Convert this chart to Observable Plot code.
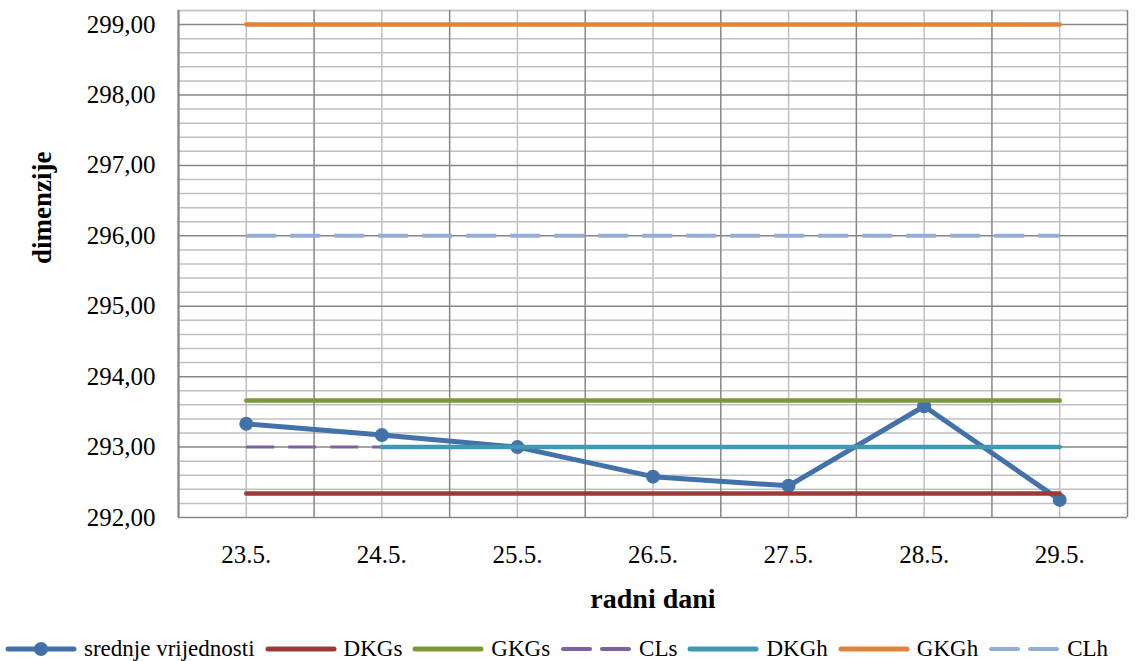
<!DOCTYPE html>
<html><head><meta charset="utf-8">
<script src="https://cdn.jsdelivr.net/npm/d3@7"></script>
<script src="https://cdn.jsdelivr.net/npm/@observablehq/plot@0.6"></script>
<style>body{margin:0;background:#fff;font-family:'Liberation Serif'}</style>
</head><body><div id="chart"></div><div id="legend" style="font-family:'Liberation Serif';display:flex;align-items:center;height:24px;padding-left:5px;font-size:23px;color:#000;white-space:nowrap"></div><script>
const days = ["23.5.","24.5.","25.5.","26.5.","27.5.","28.5.","29.5."];
const srednje = [293.33, 293.17, 293.00, 292.58, 292.45, 293.58, 292.25];
const DKGs = [292.34, 292.34, 292.34, 292.34, 292.34, 292.34, 292.34];
const GKGs = [293.66, 293.66, 293.66, 293.66, 293.66, 293.66, 293.66];
const CLs  = [293.00, 293.00, 293.00, 293.00, 293.00, 293.00, 293.00];
const DKGh = [null, 293.00, 293.00, 293.00, 293.00, 293.00, 293.00];
const GKGh = [299.00, 299.00, 299.00, 299.00, 299.00, 299.00, 299.00];
const CLh  = [296.00, 296.00, 296.00, 296.00, 296.00, 296.00, 296.00];
const yTicks = [292, 293, 294, 295, 296, 297, 298, 299];

const FONT = "'Liberation Serif'";

const series = [
  {name: "srednje vrijednosti", values: srednje, color: "#4372AA", width: 5, dash: null, marker: true},
  {name: "DKGs", values: DKGs, color: "#9B3A39", width: 4.5, dash: null},
  {name: "GKGs", values: GKGs, color: "#7A983B", width: 4.5, dash: null},
  {name: "CLs", values: CLs, color: "#7E5F9F", width: 3, dash: "28,14"},
  {name: "DKGh", values: DKGh, color: "#4298B1", width: 4.5, dash: null},
  {name: "GKGh", values: GKGh, color: "#E2833A", width: 4.5, dash: null},
  {name: "CLh", values: CLh, color: "#93AED6", width: 4, dash: "30,14"}
];

const idx = d3.range(days.length);
const minor = d3.range(1, 37).map(i => 292 + i * 0.2).filter(v => Math.abs(v - Math.round(v)) > 1e-6);
const halfs = d3.range(-0.5, 7, 1);

const marks = [
  Plot.ruleY(minor, {stroke: "#C0C0C0", strokeWidth: 1.5}),
  Plot.ruleY([299.2], {stroke: "#C8C8C8", strokeWidth: 1.5}),
  Plot.ruleX(idx, {stroke: "#C0C0C0", strokeWidth: 1.5}),
  Plot.ruleY(yTicks, {stroke: "#868686", strokeWidth: 1.5}),
  Plot.ruleX(halfs, {stroke: "#868686", strokeWidth: 1.5}),
  Plot.ruleX([-0.5], {stroke: "#868686", strokeWidth: 2})
];

for (const s of series) {
  const data = idx.map(i => ({x: i, y: s.values[i]}));
  marks.push(Plot.line(data, {x: "x", y: "y", stroke: s.color, strokeWidth: s.width,
    strokeDasharray: s.dash || undefined, strokeLinecap: s.dash ? "butt" : "round", defined: d => d.y != null}));
  if (s.marker) marks.push(Plot.dot(data, {x: "x", y: "y", r: 7, fill: s.color, stroke: "none"}));
}

marks.push(
  Plot.axisY({ticks: yTicks, tickFormat: d => d.toFixed(2).replace(".", ","), tickSize: 0, tickPadding: 23, fontSize: 25, label: null}),
  Plot.axisX({ticks: idx, tickFormat: i => days[i], tickSize: 0, tickPadding: 28, fontSize: 25, label: null}),
  Plot.text(["dimenzije"], {frameAnchor: "left", dx: -136, rotate: -90, fontSize: 27, fontWeight: "bold", fill: "#000"}),
  Plot.text(["radni dani"], {frameAnchor: "bottom", dy: 90, fontSize: 28, fontWeight: "bold", fill: "#000"})
);

const chart = Plot.plot({
  width: 1146, height: 637,
  marginLeft: 178, marginRight: 19, marginTop: 10, marginBottom: 120,
  style: {fontFamily: FONT, color: "#000", background: "#fff", overflow: "visible"},
  x: {type: "linear", domain: [-0.5, 6.5], axis: null},
  y: {domain: [292, 299.2], axis: null},
  marks
});
document.getElementById("chart").appendChild(chart);

const legend = d3.select("#legend");
for (const s of series) {
  const item = legend.append("div").style("display", "flex").style("align-items", "center").style("margin-right", "10px");
  const sw = item.append("svg").attr("width", 72).attr("height", 20).style("margin-right", "7px");
  if (s.dash) {
    sw.append("line").attr("x1", 3).attr("x2", 30).attr("y1", 10).attr("y2", 10)
      .attr("stroke", s.color).attr("stroke-width", 4).attr("stroke-linecap", "round");
    sw.append("line").attr("x1", 42).attr("x2", 69).attr("y1", 10).attr("y2", 10)
      .attr("stroke", s.color).attr("stroke-width", 4).attr("stroke-linecap", "round");
  } else {
    sw.append("line").attr("x1", 3).attr("x2", 69).attr("y1", 10).attr("y2", 10)
      .attr("stroke", s.color).attr("stroke-width", 5).attr("stroke-linecap", "round");
  }
  if (s.marker) sw.append("circle").attr("cx", 36).attr("cy", 10).attr("r", 7).attr("fill", s.color);
  item.append("span").text(s.name);
}

document.querySelectorAll("#chart svg, #chart g, #chart text, #legend span").forEach(el => {
  el.setAttribute("font-family", "Liberation Serif");
  el.style.setProperty("font-family", "'Liberation Serif'", "important");
});
</script></body></html>
